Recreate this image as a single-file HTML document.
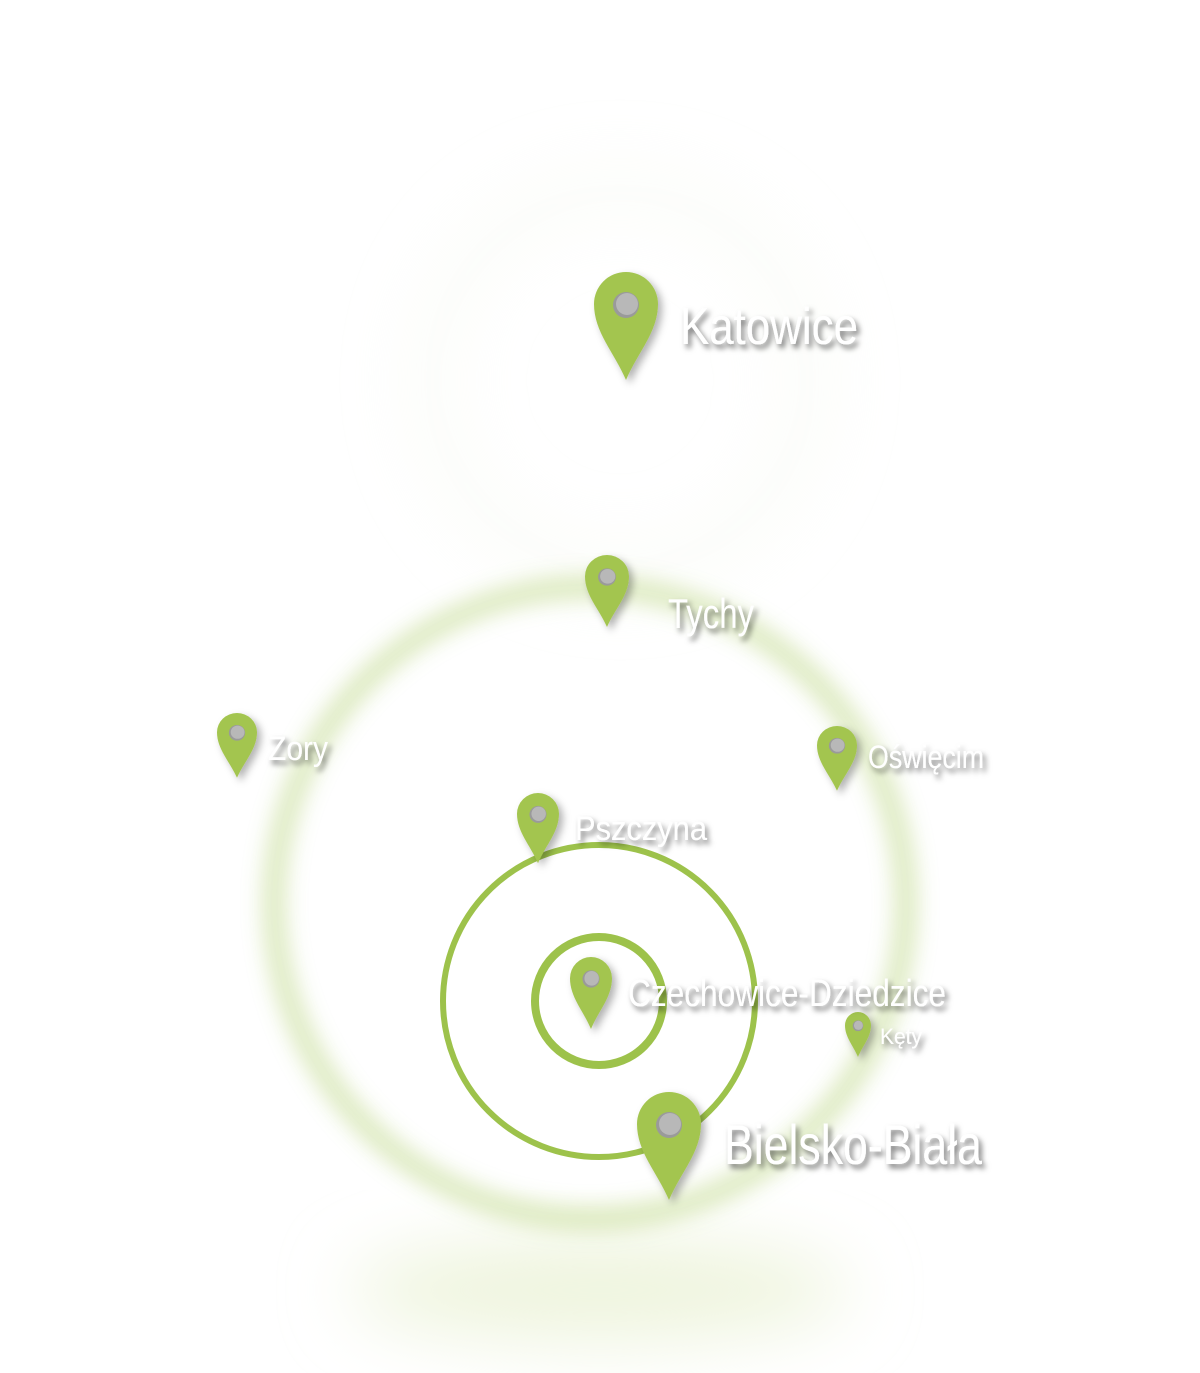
<!DOCTYPE html>
<html><head><meta charset="utf-8"><style>
html,body{margin:0;padding:0;background:#fff;}
svg{display:block}
text{font-family:"Liberation Sans Narrow","Liberation Sans",sans-serif;fill:#fff;}
</style></head><body>
<svg width="1200" height="1373" viewBox="0 0 1200 1373" xmlns="http://www.w3.org/2000/svg">
<defs>
<filter id="b20" x="-50%" y="-50%" width="200%" height="200%"><feGaussianBlur stdDeviation="12"/></filter>
<filter id="b40" x="-50%" y="-50%" width="200%" height="200%"><feGaussianBlur stdDeviation="35"/></filter>
<filter id="sh" x="-30%" y="-30%" width="160%" height="160%"><feDropShadow dx="3" dy="4" stdDeviation="3" flood-color="#000" flood-opacity="0.55"/></filter>
<filter id="ps" x="-50%" y="-30%" width="200%" height="160%"><feDropShadow dx="4" dy="4" stdDeviation="4" flood-color="#000" flood-opacity="0.3"/></filter>
<g id="pin">
<path d="M32,108 C20,80 0,60 0,32 A32,32 0 1 1 64,32 C64,60 44,80 32,108 Z" fill="#a3c54f"/>
<circle cx="32" cy="33" r="13" fill="#9a9a9a"/>
<circle cx="33" cy="32" r="11" fill="#b8b8b8"/>
</g>
</defs>
<circle cx="620" cy="380" r="190" fill="none" stroke="#f3f7ea" stroke-width="30" filter="url(#b40)" opacity="0.5"/>
<ellipse cx="600" cy="1290" rx="250" ry="50" fill="#eef4dd" filter="url(#b40)"/>
<circle cx="590" cy="903" r="316" fill="none" stroke="#c8dd9a" stroke-width="16" filter="url(#b20)" opacity="0.9"/>
<circle cx="599" cy="1001" r="156" fill="none" stroke="#9dc24b" stroke-width="6"/>
<circle cx="599" cy="1001" r="64" fill="none" stroke="#9dc24b" stroke-width="8"/>
<g filter="url(#ps)">
<use href="#pin" transform="translate(594,272) scale(1,1)"/>
<use href="#pin" transform="translate(585,555) scale(0.6875,0.667)"/>
<use href="#pin" transform="translate(217,713) scale(0.625,0.6)"/>
<use href="#pin" transform="translate(817,726) scale(0.625,0.6)"/>
<use href="#pin" transform="translate(517,793) scale(0.656,0.65)"/>
<use href="#pin" transform="translate(570,957) scale(0.656,0.667)"/>
<use href="#pin" transform="translate(845,1012) scale(0.406,0.417)"/>
<use href="#pin" transform="translate(637,1092) scale(1,1)"/>
</g>
<g filter="url(#sh)">
<text x="680" y="344" font-size="52" textLength="178" lengthAdjust="spacingAndGlyphs">Katowice</text>
<text x="668" y="628" font-size="42" textLength="86" lengthAdjust="spacingAndGlyphs">Tychy</text>
<text x="268" y="760" font-size="34" textLength="60" lengthAdjust="spacingAndGlyphs">Zory</text>
<text x="868" y="768" font-size="32" textLength="116" lengthAdjust="spacingAndGlyphs">Oświęcim</text>
<text x="575" y="840" font-size="34" textLength="132" lengthAdjust="spacingAndGlyphs">Pszczyna</text>
<text x="628" y="1006" font-size="38" textLength="318" lengthAdjust="spacingAndGlyphs">Czechowice-Dziedzice</text>
<text x="880" y="1044" font-size="22" textLength="42" lengthAdjust="spacingAndGlyphs">Kęty</text>
<text x="724" y="1164" font-size="56" textLength="258" lengthAdjust="spacingAndGlyphs">Bielsko-Biała</text>
</g>
</svg>
</body></html>
